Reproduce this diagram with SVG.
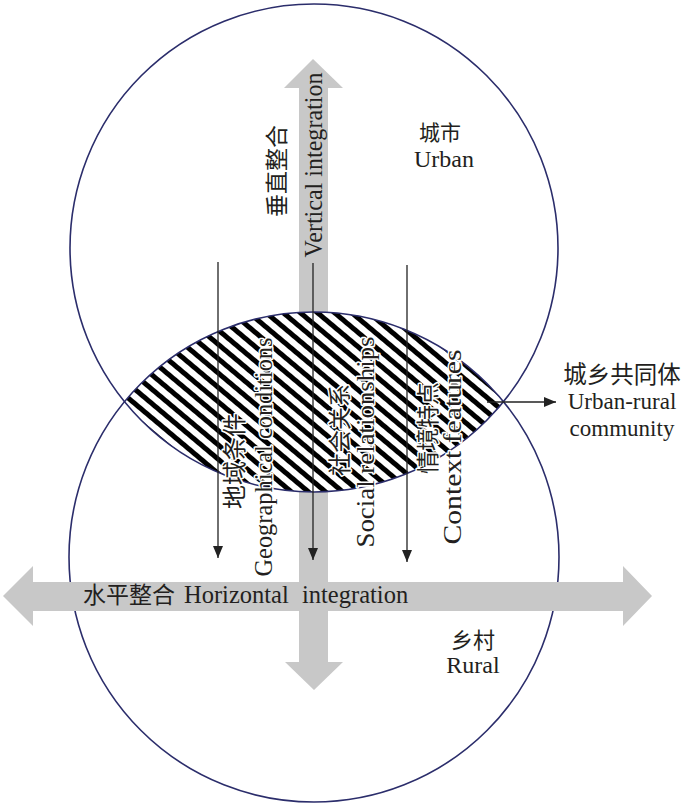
<svg xmlns="http://www.w3.org/2000/svg" width="687" height="804" viewBox="0 0 687 804">
<style>
.circ{fill:none;stroke:#2b2d6b;stroke-width:1.6}
.band{fill:#c8c8c8}
.ln{stroke:#222;stroke-width:1.3;fill:none}
.t{font-family:"Liberation Serif","Noto Sans CJK SC",serif;fill:#231f20}
.cn{font-family:"Noto Sans CJK SC","Liberation Serif",sans-serif;fill:#231f20}
.halo{stroke:#fff;stroke-width:3;paint-order:stroke;stroke-linejoin:round}
</style>
<defs>
<pattern id="hatch" width="11" height="11" patternUnits="userSpaceOnUse" patternTransform="rotate(40)">
<rect width="11" height="11" fill="#fff"/>
<rect y="0" width="11" height="5" fill="#000"/>
</pattern>
<marker id="ah" markerWidth="12" markerHeight="10" refX="12" refY="5" orient="auto" markerUnits="userSpaceOnUse">
<path d="M0,0 L12,5 L0,10 z" fill="#222"/>
</marker>
</defs>

<g id="vertical-arrow">
<polygon class="band" points="313,59 343,88 328,88 328,662 343,662 314,690 285,662 299,662 299,88 284,88"/>
</g>

<g id="community-lens">
<path d="M124.5,401.7 A245 245 0 0 1 503.5,401.7 A244 244 0 0 1 124.5,401.7 Z" fill="url(#hatch)"/>
</g>

<g id="urban-circle">
<circle class="circ" cx="314" cy="248" r="244"/>
</g>
<g id="rural-circle">
<circle class="circ" cx="314" cy="557" r="245"/>
</g>

<g id="horizontal-arrow">
<polygon class="band" points="3,596 33,566 33,582 623,582 623,566 652,596 623,626 623,611 33,611 33,626"/>
</g>

<g id="connectors">
<line class="ln" x1="218" y1="262" x2="218" y2="558" marker-end="url(#ah)"/>
<line class="ln" x1="313" y1="263" x2="313" y2="560" marker-end="url(#ah)"/>
<line class="ln" x1="407" y1="265" x2="407" y2="562" marker-end="url(#ah)"/>
<line class="ln" x1="487" y1="402" x2="556" y2="402" marker-end="url(#ah)"/>
</g>

<g id="vertical-label">
<text class="cn" font-size="23" text-anchor="middle" transform="translate(285,171) rotate(-90)">垂直整合</text>
<text class="t" font-size="26" text-anchor="middle" textLength="185" lengthAdjust="spacingAndGlyphs" transform="translate(322,165) rotate(-90)">Vertical integration</text>
</g>

<g id="horizontal-label">
<text class="cn" font-size="23" x="83" y="603">水平整合</text>
<text class="t" font-size="24.5" x="184" y="603">Horizontal</text>
<text class="t" font-size="24.5" x="302" y="603">integration</text>
</g>

<g id="geo-label">
<text class="cn halo" font-size="24" text-anchor="middle" transform="translate(243,461) rotate(-90)">地域条件</text>
<text class="t halo" font-size="26" text-anchor="middle" textLength="239" lengthAdjust="spacingAndGlyphs" transform="translate(272,457) rotate(-90)">Geographical conditions</text>
</g>

<g id="social-label">
<text class="cn halo" font-size="23" text-anchor="middle" transform="translate(348,430) rotate(-90)">社会关系</text>
<text class="t halo" font-size="26" text-anchor="middle" textLength="211" lengthAdjust="spacingAndGlyphs" transform="translate(374,442) rotate(-90)">Social relationships</text>
</g>

<g id="context-label">
<text class="cn halo" font-size="23" text-anchor="middle" transform="translate(436,428) rotate(-90)">情境特点</text>
<text class="t halo" font-size="26" text-anchor="middle" textLength="195" lengthAdjust="spacingAndGlyphs" transform="translate(461,447) rotate(-90)">Context features</text>
</g>

<g id="urban-label">
<text class="cn" font-size="21" text-anchor="middle" x="440" y="140">城市</text>
<text class="t" font-size="24" text-anchor="middle" x="444" y="167">Urban</text>
</g>

<g id="community-label">
<text class="cn" font-size="23.5" text-anchor="middle" x="622" y="383">城乡共同体</text>
<text class="t" font-size="23" text-anchor="middle" x="622" y="409">Urban-rural</text>
<text class="t" font-size="23" text-anchor="middle" x="622" y="436">community</text>
</g>

<g id="rural-label">
<text class="cn" font-size="22" text-anchor="middle" x="473" y="648">乡村</text>
<text class="t" font-size="24" text-anchor="middle" x="473" y="673">Rural</text>
</g>
</svg>
